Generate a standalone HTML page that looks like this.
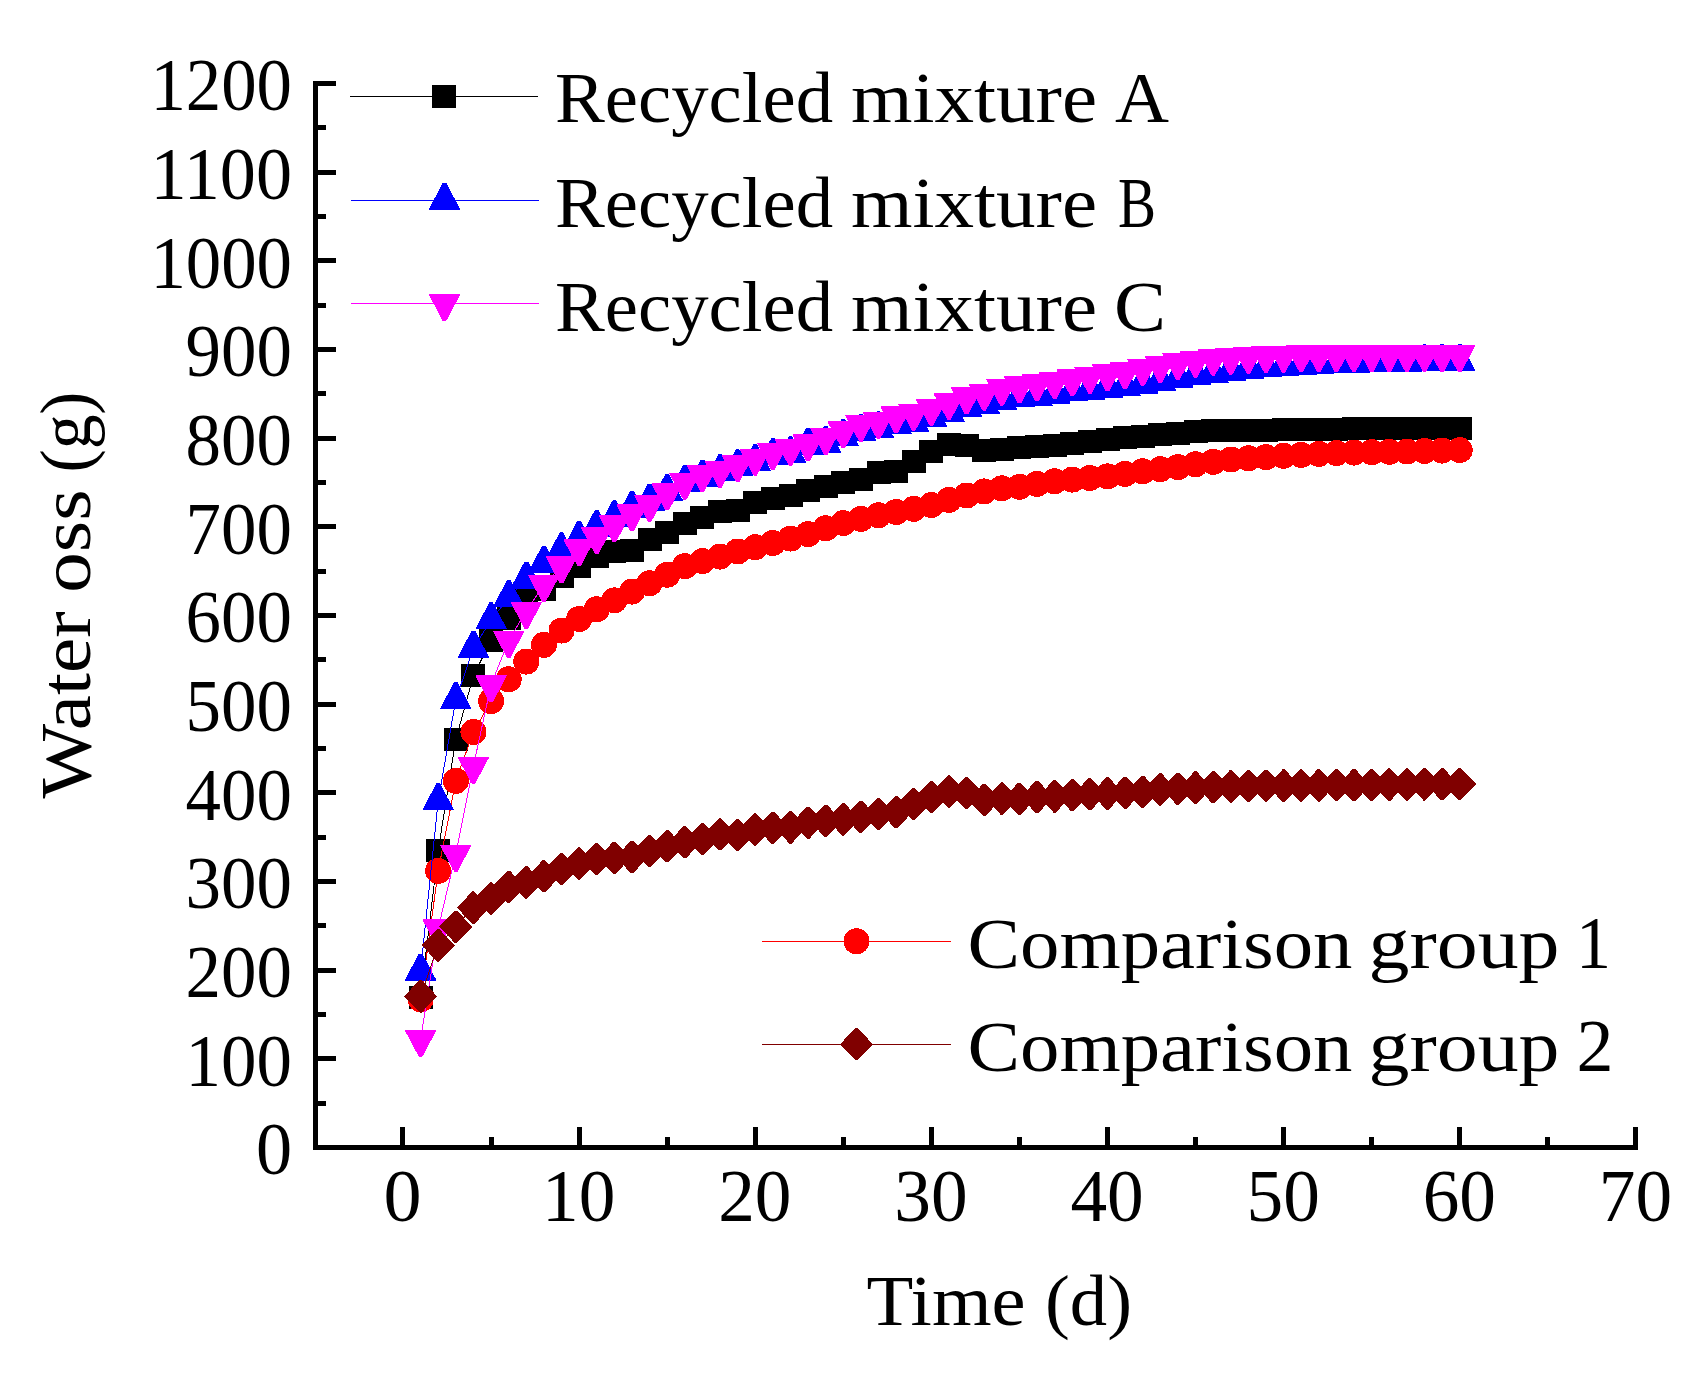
<!DOCTYPE html>
<html lang="en">
<head>
<meta charset="utf-8">
<title>Water loss over time</title>
<style>
html,body{margin:0;padding:0;background:#fff;}
body{width:1707px;height:1377px;overflow:hidden;}
svg{display:block;}
text{font-family:"Liberation Serif","DejaVu Serif",serif;font-size:72px;fill:#000;}
.n{font-size:75px;}
</style>
</head>
<body>
<svg width="1707" height="1377" viewBox="0 0 1707 1377">
<rect width="1707" height="1377" fill="#fff"/>
<g fill="#000" shape-rendering="crispEdges">
<rect x="313" y="81" width="5" height="1069"/>
<rect x="313" y="1145" width="1325" height="5"/>
<rect x="313" y="1145" width="23" height="5"/>
<rect x="313" y="1101" width="13" height="5"/>
<rect x="313" y="1056" width="23" height="5"/>
<rect x="313" y="1012" width="13" height="5"/>
<rect x="313" y="968" width="23" height="5"/>
<rect x="313" y="923" width="13" height="5"/>
<rect x="313" y="879" width="23" height="5"/>
<rect x="313" y="835" width="13" height="5"/>
<rect x="313" y="790" width="23" height="5"/>
<rect x="313" y="746" width="13" height="5"/>
<rect x="313" y="702" width="23" height="5"/>
<rect x="313" y="657" width="13" height="5"/>
<rect x="313" y="613" width="23" height="5"/>
<rect x="313" y="569" width="13" height="5"/>
<rect x="313" y="524" width="23" height="5"/>
<rect x="313" y="480" width="13" height="5"/>
<rect x="313" y="436" width="23" height="5"/>
<rect x="313" y="391" width="13" height="5"/>
<rect x="313" y="347" width="23" height="5"/>
<rect x="313" y="303" width="13" height="5"/>
<rect x="313" y="258" width="23" height="5"/>
<rect x="313" y="214" width="13" height="5"/>
<rect x="313" y="170" width="23" height="5"/>
<rect x="313" y="125" width="13" height="5"/>
<rect x="313" y="81" width="23" height="5"/>
<rect x="400" y="1127" width="5" height="23"/>
<rect x="489" y="1137" width="5" height="13"/>
<rect x="577" y="1127" width="5" height="23"/>
<rect x="665" y="1137" width="5" height="13"/>
<rect x="753" y="1127" width="5" height="23"/>
<rect x="841" y="1137" width="5" height="13"/>
<rect x="929" y="1127" width="5" height="23"/>
<rect x="1017" y="1137" width="5" height="13"/>
<rect x="1105" y="1127" width="5" height="23"/>
<rect x="1193" y="1137" width="5" height="13"/>
<rect x="1281" y="1127" width="5" height="23"/>
<rect x="1369" y="1137" width="5" height="13"/>
<rect x="1457" y="1127" width="5" height="23"/>
<rect x="1545" y="1137" width="5" height="13"/>
<rect x="1633" y="1127" width="5" height="23"/>
</g>
<g text-anchor="end" font-size="75">
<text class="n" x="292" y="1174.2" textLength="36.1" lengthAdjust="spacingAndGlyphs">0</text>
<text class="n" x="292" y="1085.5" textLength="106.4" lengthAdjust="spacingAndGlyphs">100</text>
<text class="n" x="292" y="996.9" textLength="106.4" lengthAdjust="spacingAndGlyphs">200</text>
<text class="n" x="292" y="908.2" textLength="106.4" lengthAdjust="spacingAndGlyphs">300</text>
<text class="n" x="292" y="819.5" textLength="106.4" lengthAdjust="spacingAndGlyphs">400</text>
<text class="n" x="292" y="730.9" textLength="106.4" lengthAdjust="spacingAndGlyphs">500</text>
<text class="n" x="292" y="642.2" textLength="106.4" lengthAdjust="spacingAndGlyphs">600</text>
<text class="n" x="292" y="553.5" textLength="106.4" lengthAdjust="spacingAndGlyphs">700</text>
<text class="n" x="292" y="464.9" textLength="106.4" lengthAdjust="spacingAndGlyphs">800</text>
<text class="n" x="292" y="376.2" textLength="106.4" lengthAdjust="spacingAndGlyphs">900</text>
<text class="n" x="292" y="287.5" textLength="141.6" lengthAdjust="spacingAndGlyphs">1000</text>
<text class="n" x="292" y="198.9" textLength="141.6" lengthAdjust="spacingAndGlyphs">1100</text>
<text class="n" x="292" y="110.2" textLength="141.6" lengthAdjust="spacingAndGlyphs">1200</text>
</g>
<g text-anchor="middle">
<text class="n" x="402.6" y="1221.3" textLength="38.1" lengthAdjust="spacingAndGlyphs">0</text>
<text class="n" x="578.7" y="1221.3" textLength="73.3" lengthAdjust="spacingAndGlyphs">10</text>
<text class="n" x="754.8" y="1221.3" textLength="73.3" lengthAdjust="spacingAndGlyphs">20</text>
<text class="n" x="931" y="1221.3" textLength="73.3" lengthAdjust="spacingAndGlyphs">30</text>
<text class="n" x="1107.1" y="1221.3" textLength="73.3" lengthAdjust="spacingAndGlyphs">40</text>
<text class="n" x="1283.2" y="1221.3" textLength="73.3" lengthAdjust="spacingAndGlyphs">50</text>
<text class="n" x="1459.3" y="1221.3" textLength="73.3" lengthAdjust="spacingAndGlyphs">60</text>
<text class="n" x="1635.4" y="1221.3" textLength="73.3" lengthAdjust="spacingAndGlyphs">70</text>
</g>
<text y="1325.3"><tspan x="866.5" textLength="159" lengthAdjust="spacingAndGlyphs">Time</tspan> <tspan x="1045" textLength="87" lengthAdjust="spacingAndGlyphs">(d)</tspan></text>
<text transform="translate(90 798.5) rotate(-90)"><tspan x="0" textLength="187" lengthAdjust="spacingAndGlyphs">Water</tspan> <tspan x="205.7" textLength="103.5" lengthAdjust="spacingAndGlyphs">oss</tspan> <tspan x="326" textLength="81" lengthAdjust="spacingAndGlyphs">(g)</tspan></text>
<g shape-rendering="crispEdges">
<g fill="#000000" stroke="none">
<polyline fill="none" stroke="#000000" stroke-width="1" points="420.6,997.7 438.2,850.5 455.8,739.6 473.4,675.8 491.1,640.3 508.7,618.2 526.3,598.7 543.9,589.8 561.5,576.5 579.1,566.7 596.7,556.1 614.3,551.7 632,550.8 649.6,539.2 667.2,532.2 684.8,523.7 702.4,517.1 720,511.8 737.6,510.9 755.2,502.9 772.9,498.5 790.5,495.8 808.1,490 825.7,486.9 843.3,482.5 860.9,479 878.5,472.3 896.1,471 913.7,461.2 931.4,451.5 949,444.4 966.6,445.3 984.2,450.6 1001.8,449.2 1019.4,447.9 1037,446.5 1054.6,445.3 1072.3,443.7 1089.9,441.7 1107.5,439.3 1125.1,437.3 1142.7,436.1 1160.3,434.8 1177.9,433.1 1195.5,431.8 1213.2,430.9 1230.8,430.4 1248.4,430 1266,430 1283.6,429.7 1301.2,429.5 1318.8,429.3 1336.4,429.1 1354,428.9 1371.7,428.8 1389.3,428.7 1406.9,428.6 1424.5,428.5 1442.1,428.5 1459.7,428.5"/>
<rect x="408.6" y="986.2" width="24" height="23"/>
<rect x="426.2" y="839" width="24" height="23"/>
<rect x="443.8" y="728.1" width="24" height="23"/>
<rect x="461.4" y="664.3" width="24" height="23"/>
<rect x="479.1" y="628.8" width="24" height="23"/>
<rect x="496.7" y="606.7" width="24" height="23"/>
<rect x="514.3" y="587.2" width="24" height="23"/>
<rect x="531.9" y="578.3" width="24" height="23"/>
<rect x="549.5" y="565" width="24" height="23"/>
<rect x="567.1" y="555.2" width="24" height="23"/>
<rect x="584.7" y="544.6" width="24" height="23"/>
<rect x="602.3" y="540.2" width="24" height="23"/>
<rect x="620" y="539.3" width="24" height="23"/>
<rect x="637.6" y="527.7" width="24" height="23"/>
<rect x="655.2" y="520.7" width="24" height="23"/>
<rect x="672.8" y="512.2" width="24" height="23"/>
<rect x="690.4" y="505.6" width="24" height="23"/>
<rect x="708" y="500.3" width="24" height="23"/>
<rect x="725.6" y="499.4" width="24" height="23"/>
<rect x="743.2" y="491.4" width="24" height="23"/>
<rect x="760.9" y="487" width="24" height="23"/>
<rect x="778.5" y="484.3" width="24" height="23"/>
<rect x="796.1" y="478.5" width="24" height="23"/>
<rect x="813.7" y="475.4" width="24" height="23"/>
<rect x="831.3" y="471" width="24" height="23"/>
<rect x="848.9" y="467.5" width="24" height="23"/>
<rect x="866.5" y="460.8" width="24" height="23"/>
<rect x="884.1" y="459.5" width="24" height="23"/>
<rect x="901.7" y="449.7" width="24" height="23"/>
<rect x="919.4" y="440" width="24" height="23"/>
<rect x="937" y="432.9" width="24" height="23"/>
<rect x="954.6" y="433.8" width="24" height="23"/>
<rect x="972.2" y="439.1" width="24" height="23"/>
<rect x="989.8" y="437.7" width="24" height="23"/>
<rect x="1007.4" y="436.4" width="24" height="23"/>
<rect x="1025" y="435" width="24" height="23"/>
<rect x="1042.6" y="433.8" width="24" height="23"/>
<rect x="1060.3" y="432.2" width="24" height="23"/>
<rect x="1077.9" y="430.2" width="24" height="23"/>
<rect x="1095.5" y="427.8" width="24" height="23"/>
<rect x="1113.1" y="425.8" width="24" height="23"/>
<rect x="1130.7" y="424.6" width="24" height="23"/>
<rect x="1148.3" y="423.3" width="24" height="23"/>
<rect x="1165.9" y="421.6" width="24" height="23"/>
<rect x="1183.5" y="420.3" width="24" height="23"/>
<rect x="1201.2" y="419.4" width="24" height="23"/>
<rect x="1218.8" y="418.9" width="24" height="23"/>
<rect x="1236.4" y="418.5" width="24" height="23"/>
<rect x="1254" y="418.5" width="24" height="23"/>
<rect x="1271.6" y="418.2" width="24" height="23"/>
<rect x="1289.2" y="418" width="24" height="23"/>
<rect x="1306.8" y="417.8" width="24" height="23"/>
<rect x="1324.4" y="417.6" width="24" height="23"/>
<rect x="1342" y="417.4" width="24" height="23"/>
<rect x="1359.7" y="417.3" width="24" height="23"/>
<rect x="1377.3" y="417.2" width="24" height="23"/>
<rect x="1394.9" y="417.1" width="24" height="23"/>
<rect x="1412.5" y="417" width="24" height="23"/>
<rect x="1430.1" y="417" width="24" height="23"/>
<rect x="1447.7" y="417" width="24" height="23"/>
</g>
<g fill="#ff0000" stroke="none">
<polyline fill="none" stroke="#ff0000" stroke-width="1" points="420.6,999.4 438.2,870.9 455.8,780.9 473.4,732 491.1,701.1 508.7,679.3 526.3,661.6 543.9,644.8 561.5,630.6 579.1,619 596.7,609.3 614.3,600.4 632,591.6 649.6,583.2 667.2,574.7 684.8,566.2 702.4,561.1 720,556.6 737.6,551.5 755.2,547.2 772.9,543 790.5,538.6 808.1,534.2 825.7,528.3 843.3,523.1 860.9,518.9 878.5,515.3 896.1,512 913.7,508.9 931.4,505 949,499.9 966.6,495.5 984.2,491.4 1001.8,488.3 1019.4,486.8 1037,483.9 1054.6,481.2 1072.3,479.6 1089.9,478 1107.5,476.4 1125.1,473.8 1142.7,471.3 1160.3,469.2 1177.9,467.1 1195.5,464.2 1213.2,461.8 1230.8,459.5 1248.4,458.3 1266,457.1 1283.6,455.8 1301.2,454.9 1318.8,453.9 1336.4,453.1 1354,452.6 1371.7,452.2 1389.3,451.8 1406.9,451.5 1424.5,451 1442.1,450.6 1459.7,450.1"/>
<circle cx="420.6" cy="999.4" r="13"/>
<circle cx="438.2" cy="870.9" r="13"/>
<circle cx="455.8" cy="780.9" r="13"/>
<circle cx="473.4" cy="732" r="13"/>
<circle cx="491.1" cy="701.1" r="13"/>
<circle cx="508.7" cy="679.3" r="13"/>
<circle cx="526.3" cy="661.6" r="13"/>
<circle cx="543.9" cy="644.8" r="13"/>
<circle cx="561.5" cy="630.6" r="13"/>
<circle cx="579.1" cy="619" r="13"/>
<circle cx="596.7" cy="609.3" r="13"/>
<circle cx="614.3" cy="600.4" r="13"/>
<circle cx="632" cy="591.6" r="13"/>
<circle cx="649.6" cy="583.2" r="13"/>
<circle cx="667.2" cy="574.7" r="13"/>
<circle cx="684.8" cy="566.2" r="13"/>
<circle cx="702.4" cy="561.1" r="13"/>
<circle cx="720" cy="556.6" r="13"/>
<circle cx="737.6" cy="551.5" r="13"/>
<circle cx="755.2" cy="547.2" r="13"/>
<circle cx="772.9" cy="543" r="13"/>
<circle cx="790.5" cy="538.6" r="13"/>
<circle cx="808.1" cy="534.2" r="13"/>
<circle cx="825.7" cy="528.3" r="13"/>
<circle cx="843.3" cy="523.1" r="13"/>
<circle cx="860.9" cy="518.9" r="13"/>
<circle cx="878.5" cy="515.3" r="13"/>
<circle cx="896.1" cy="512" r="13"/>
<circle cx="913.7" cy="508.9" r="13"/>
<circle cx="931.4" cy="505" r="13"/>
<circle cx="949" cy="499.9" r="13"/>
<circle cx="966.6" cy="495.5" r="13"/>
<circle cx="984.2" cy="491.4" r="13"/>
<circle cx="1001.8" cy="488.3" r="13"/>
<circle cx="1019.4" cy="486.8" r="13"/>
<circle cx="1037" cy="483.9" r="13"/>
<circle cx="1054.6" cy="481.2" r="13"/>
<circle cx="1072.3" cy="479.6" r="13"/>
<circle cx="1089.9" cy="478" r="13"/>
<circle cx="1107.5" cy="476.4" r="13"/>
<circle cx="1125.1" cy="473.8" r="13"/>
<circle cx="1142.7" cy="471.3" r="13"/>
<circle cx="1160.3" cy="469.2" r="13"/>
<circle cx="1177.9" cy="467.1" r="13"/>
<circle cx="1195.5" cy="464.2" r="13"/>
<circle cx="1213.2" cy="461.8" r="13"/>
<circle cx="1230.8" cy="459.5" r="13"/>
<circle cx="1248.4" cy="458.3" r="13"/>
<circle cx="1266" cy="457.1" r="13"/>
<circle cx="1283.6" cy="455.8" r="13"/>
<circle cx="1301.2" cy="454.9" r="13"/>
<circle cx="1318.8" cy="453.9" r="13"/>
<circle cx="1336.4" cy="453.1" r="13"/>
<circle cx="1354" cy="452.6" r="13"/>
<circle cx="1371.7" cy="452.2" r="13"/>
<circle cx="1389.3" cy="451.8" r="13"/>
<circle cx="1406.9" cy="451.5" r="13"/>
<circle cx="1424.5" cy="451" r="13"/>
<circle cx="1442.1" cy="450.6" r="13"/>
<circle cx="1459.7" cy="450.1" r="13"/>
</g>
<g fill="#0000ff" stroke="none">
<polyline fill="none" stroke="#0000ff" stroke-width="1" points="420.6,971.1 438.2,800.8 455.8,699.7 473.4,648.3 491.1,619.9 508.7,597.8 526.3,579.1 543.9,563.2 561.5,549.9 579.1,538.4 596.7,527.3 614.3,518 632,508.2 649.6,501.1 667.2,491.4 684.8,482.5 702.4,477.2 720,471.9 737.6,466.8 755.2,461.7 772.9,455.9 790.5,453.7 808.1,445.3 825.7,443.8 843.3,436.8 860.9,432 878.5,429 896.1,424.7 913.7,422.5 931.4,417.5 949,412.5 966.6,407.7 984.2,404.4 1001.8,400.7 1019.4,397.8 1037,396.3 1054.6,394.1 1072.3,392 1089.9,390.2 1107.5,388.1 1125.1,386.5 1142.7,384.2 1160.3,381.5 1177.9,378.7 1195.5,375.8 1213.2,373.7 1230.8,371.5 1248.4,369.4 1266,367.9 1283.6,366.3 1301.2,365.2 1318.8,364.6 1336.4,363.7 1354,363.2 1371.7,362.8 1389.3,362.6 1406.9,362.4 1424.5,361.9 1442.1,361.7 1459.7,361.6"/>
<path d="M418.9 953.5h3.4l13.8 26v1h-31v-1z"/>
<path d="M436.5 783.2h3.4l13.8 26v1h-31v-1z"/>
<path d="M454.1 682.1h3.4l13.8 26v1h-31v-1z"/>
<path d="M471.7 630.7h3.4l13.8 26v1h-31v-1z"/>
<path d="M489.4 602.3h3.4l13.8 26v1h-31v-1z"/>
<path d="M507 580.2h3.4l13.8 26v1h-31v-1z"/>
<path d="M524.6 561.5h3.4l13.8 26v1h-31v-1z"/>
<path d="M542.2 545.6h3.4l13.8 26v1h-31v-1z"/>
<path d="M559.8 532.3h3.4l13.8 26v1h-31v-1z"/>
<path d="M577.4 520.8h3.4l13.8 26v1h-31v-1z"/>
<path d="M595 509.7h3.4l13.8 26v1h-31v-1z"/>
<path d="M612.6 500.4h3.4l13.8 26v1h-31v-1z"/>
<path d="M630.3 490.6h3.4l13.8 26v1h-31v-1z"/>
<path d="M647.9 483.5h3.4l13.8 26v1h-31v-1z"/>
<path d="M665.5 473.8h3.4l13.8 26v1h-31v-1z"/>
<path d="M683.1 464.9h3.4l13.8 26v1h-31v-1z"/>
<path d="M700.7 459.6h3.4l13.8 26v1h-31v-1z"/>
<path d="M718.3 454.3h3.4l13.8 26v1h-31v-1z"/>
<path d="M735.9 449.2h3.4l13.8 26v1h-31v-1z"/>
<path d="M753.5 444.1h3.4l13.8 26v1h-31v-1z"/>
<path d="M771.2 438.3h3.4l13.8 26v1h-31v-1z"/>
<path d="M788.8 436.1h3.4l13.8 26v1h-31v-1z"/>
<path d="M806.4 427.7h3.4l13.8 26v1h-31v-1z"/>
<path d="M824 426.2h3.4l13.8 26v1h-31v-1z"/>
<path d="M841.6 419.2h3.4l13.8 26v1h-31v-1z"/>
<path d="M859.2 414.4h3.4l13.8 26v1h-31v-1z"/>
<path d="M876.8 411.4h3.4l13.8 26v1h-31v-1z"/>
<path d="M894.4 407.1h3.4l13.8 26v1h-31v-1z"/>
<path d="M912 404.9h3.4l13.8 26v1h-31v-1z"/>
<path d="M929.7 399.9h3.4l13.8 26v1h-31v-1z"/>
<path d="M947.3 394.9h3.4l13.8 26v1h-31v-1z"/>
<path d="M964.9 390.1h3.4l13.8 26v1h-31v-1z"/>
<path d="M982.5 386.8h3.4l13.8 26v1h-31v-1z"/>
<path d="M1000.1 383.1h3.4l13.8 26v1h-31v-1z"/>
<path d="M1017.7 380.2h3.4l13.8 26v1h-31v-1z"/>
<path d="M1035.3 378.7h3.4l13.8 26v1h-31v-1z"/>
<path d="M1052.9 376.5h3.4l13.8 26v1h-31v-1z"/>
<path d="M1070.6 374.4h3.4l13.8 26v1h-31v-1z"/>
<path d="M1088.2 372.6h3.4l13.8 26v1h-31v-1z"/>
<path d="M1105.8 370.5h3.4l13.8 26v1h-31v-1z"/>
<path d="M1123.4 368.9h3.4l13.8 26v1h-31v-1z"/>
<path d="M1141 366.6h3.4l13.8 26v1h-31v-1z"/>
<path d="M1158.6 363.9h3.4l13.8 26v1h-31v-1z"/>
<path d="M1176.2 361.1h3.4l13.8 26v1h-31v-1z"/>
<path d="M1193.8 358.2h3.4l13.8 26v1h-31v-1z"/>
<path d="M1211.5 356.1h3.4l13.8 26v1h-31v-1z"/>
<path d="M1229.1 353.9h3.4l13.8 26v1h-31v-1z"/>
<path d="M1246.7 351.8h3.4l13.8 26v1h-31v-1z"/>
<path d="M1264.3 350.3h3.4l13.8 26v1h-31v-1z"/>
<path d="M1281.9 348.7h3.4l13.8 26v1h-31v-1z"/>
<path d="M1299.5 347.6h3.4l13.8 26v1h-31v-1z"/>
<path d="M1317.1 347h3.4l13.8 26v1h-31v-1z"/>
<path d="M1334.7 346.1h3.4l13.8 26v1h-31v-1z"/>
<path d="M1352.3 345.6h3.4l13.8 26v1h-31v-1z"/>
<path d="M1370 345.2h3.4l13.8 26v1h-31v-1z"/>
<path d="M1387.6 345h3.4l13.8 26v1h-31v-1z"/>
<path d="M1405.2 344.8h3.4l13.8 26v1h-31v-1z"/>
<path d="M1422.8 344.3h3.4l13.8 26v1h-31v-1z"/>
<path d="M1440.4 344.1h3.4l13.8 26v1h-31v-1z"/>
<path d="M1458 344h3.4l13.8 26v1h-31v-1z"/>
</g>
<g fill="#ff00ff" stroke="none">
<polyline fill="none" stroke="#ff00ff" stroke-width="1" points="420.6,1039.3 438.2,928.5 455.8,854 473.4,766.2 491.1,684.7 508.7,640.3 526.3,611.1 543.9,584.5 561.5,565.8 579.1,548.4 596.7,536.6 614.3,524.4 632,513.5 649.6,504.1 667.2,492.8 684.8,481.9 702.4,474.3 720,469.9 737.6,464.5 755.2,457.9 772.9,452.5 790.5,448.2 808.1,443.8 825.7,437.3 843.3,430.7 860.9,424 878.5,421.3 896.1,415.6 913.7,413 931.4,408.2 949,402.1 966.6,396.7 984.2,392.9 1001.8,387.9 1019.4,385.7 1037,383.5 1054.6,381.4 1072.3,378.8 1089.9,375.9 1107.5,373.7 1125.1,371.7 1142.7,368.1 1160.3,365.1 1177.9,362.3 1195.5,360.1 1213.2,357.9 1230.8,356.9 1248.4,356 1266,355.3 1283.6,354.9 1301.2,354.7 1318.8,354.5 1336.4,354.4 1354,354.3 1371.7,354.2 1389.3,354.1 1406.9,354.1 1424.5,354.1 1442.1,354.3 1459.7,354.5"/>
<path d="M418.9 1056.9h3.4l13.8 -26v-1h-31v1z"/>
<path d="M436.5 946.1h3.4l13.8 -26v-1h-31v1z"/>
<path d="M454.1 871.6h3.4l13.8 -26v-1h-31v1z"/>
<path d="M471.7 783.8h3.4l13.8 -26v-1h-31v1z"/>
<path d="M489.4 702.3h3.4l13.8 -26v-1h-31v1z"/>
<path d="M507 657.9h3.4l13.8 -26v-1h-31v1z"/>
<path d="M524.6 628.7h3.4l13.8 -26v-1h-31v1z"/>
<path d="M542.2 602.1h3.4l13.8 -26v-1h-31v1z"/>
<path d="M559.8 583.4h3.4l13.8 -26v-1h-31v1z"/>
<path d="M577.4 566h3.4l13.8 -26v-1h-31v1z"/>
<path d="M595 554.2h3.4l13.8 -26v-1h-31v1z"/>
<path d="M612.6 542h3.4l13.8 -26v-1h-31v1z"/>
<path d="M630.3 531.1h3.4l13.8 -26v-1h-31v1z"/>
<path d="M647.9 521.7h3.4l13.8 -26v-1h-31v1z"/>
<path d="M665.5 510.4h3.4l13.8 -26v-1h-31v1z"/>
<path d="M683.1 499.5h3.4l13.8 -26v-1h-31v1z"/>
<path d="M700.7 491.9h3.4l13.8 -26v-1h-31v1z"/>
<path d="M718.3 487.5h3.4l13.8 -26v-1h-31v1z"/>
<path d="M735.9 482.1h3.4l13.8 -26v-1h-31v1z"/>
<path d="M753.5 475.5h3.4l13.8 -26v-1h-31v1z"/>
<path d="M771.2 470.1h3.4l13.8 -26v-1h-31v1z"/>
<path d="M788.8 465.8h3.4l13.8 -26v-1h-31v1z"/>
<path d="M806.4 461.4h3.4l13.8 -26v-1h-31v1z"/>
<path d="M824 454.9h3.4l13.8 -26v-1h-31v1z"/>
<path d="M841.6 448.3h3.4l13.8 -26v-1h-31v1z"/>
<path d="M859.2 441.6h3.4l13.8 -26v-1h-31v1z"/>
<path d="M876.8 438.9h3.4l13.8 -26v-1h-31v1z"/>
<path d="M894.4 433.2h3.4l13.8 -26v-1h-31v1z"/>
<path d="M912 430.6h3.4l13.8 -26v-1h-31v1z"/>
<path d="M929.7 425.8h3.4l13.8 -26v-1h-31v1z"/>
<path d="M947.3 419.7h3.4l13.8 -26v-1h-31v1z"/>
<path d="M964.9 414.3h3.4l13.8 -26v-1h-31v1z"/>
<path d="M982.5 410.5h3.4l13.8 -26v-1h-31v1z"/>
<path d="M1000.1 405.5h3.4l13.8 -26v-1h-31v1z"/>
<path d="M1017.7 403.3h3.4l13.8 -26v-1h-31v1z"/>
<path d="M1035.3 401.1h3.4l13.8 -26v-1h-31v1z"/>
<path d="M1052.9 399h3.4l13.8 -26v-1h-31v1z"/>
<path d="M1070.6 396.4h3.4l13.8 -26v-1h-31v1z"/>
<path d="M1088.2 393.5h3.4l13.8 -26v-1h-31v1z"/>
<path d="M1105.8 391.3h3.4l13.8 -26v-1h-31v1z"/>
<path d="M1123.4 389.3h3.4l13.8 -26v-1h-31v1z"/>
<path d="M1141 385.7h3.4l13.8 -26v-1h-31v1z"/>
<path d="M1158.6 382.7h3.4l13.8 -26v-1h-31v1z"/>
<path d="M1176.2 379.9h3.4l13.8 -26v-1h-31v1z"/>
<path d="M1193.8 377.7h3.4l13.8 -26v-1h-31v1z"/>
<path d="M1211.5 375.5h3.4l13.8 -26v-1h-31v1z"/>
<path d="M1229.1 374.5h3.4l13.8 -26v-1h-31v1z"/>
<path d="M1246.7 373.6h3.4l13.8 -26v-1h-31v1z"/>
<path d="M1264.3 372.9h3.4l13.8 -26v-1h-31v1z"/>
<path d="M1281.9 372.5h3.4l13.8 -26v-1h-31v1z"/>
<path d="M1299.5 372.3h3.4l13.8 -26v-1h-31v1z"/>
<path d="M1317.1 372.1h3.4l13.8 -26v-1h-31v1z"/>
<path d="M1334.7 372h3.4l13.8 -26v-1h-31v1z"/>
<path d="M1352.3 371.9h3.4l13.8 -26v-1h-31v1z"/>
<path d="M1370 371.8h3.4l13.8 -26v-1h-31v1z"/>
<path d="M1387.6 371.7h3.4l13.8 -26v-1h-31v1z"/>
<path d="M1405.2 371.7h3.4l13.8 -26v-1h-31v1z"/>
<path d="M1422.8 371.7h3.4l13.8 -26v-1h-31v1z"/>
<path d="M1440.4 371.9h3.4l13.8 -26v-1h-31v1z"/>
<path d="M1458 372.1h3.4l13.8 -26v-1h-31v1z"/>
</g>
<g fill="#800000" stroke="none">
<polyline fill="none" stroke="#800000" stroke-width="1" points="420.6,996.3 438.2,945.3 455.8,926.7 473.4,907.6 491.1,898.3 508.7,886.8 526.3,882.4 543.9,876.2 561.5,869.1 579.1,863.3 596.7,859 614.3,857.8 632,857 649.6,850.8 667.2,846.2 684.8,842.2 702.4,839 720,834.2 737.6,834.9 755.2,829.5 772.9,827.9 790.5,827.4 808.1,822.8 825.7,820.7 843.3,819.3 860.9,816.9 878.5,813.7 896.1,812.1 913.7,804 931.4,797 949,791.6 966.6,793.2 984.2,799.9 1001.8,798.6 1019.4,798.7 1037,797 1054.6,796.4 1072.3,795.2 1089.9,794.1 1107.5,793.5 1125.1,792.9 1142.7,791.8 1160.3,789.4 1177.9,788.8 1195.5,787.6 1213.2,787.1 1230.8,786.4 1248.4,786.2 1266,785.8 1283.6,785.6 1301.2,785.4 1318.8,785.3 1336.4,785.2 1354,785.1 1371.7,785 1389.3,784.6 1406.9,784.4 1424.5,784.3 1442.1,784.1 1459.7,784"/>
<path d="M419.6 980.1h2l15.6 16.2l-15.6 16.2h-2l-15.6 -16.2z"/>
<path d="M437.2 929.1h2l15.6 16.2l-15.6 16.2h-2l-15.6 -16.2z"/>
<path d="M454.8 910.5h2l15.6 16.2l-15.6 16.2h-2l-15.6 -16.2z"/>
<path d="M472.4 891.4h2l15.6 16.2l-15.6 16.2h-2l-15.6 -16.2z"/>
<path d="M490.1 882.1h2l15.6 16.2l-15.6 16.2h-2l-15.6 -16.2z"/>
<path d="M507.7 870.6h2l15.6 16.2l-15.6 16.2h-2l-15.6 -16.2z"/>
<path d="M525.3 866.2h2l15.6 16.2l-15.6 16.2h-2l-15.6 -16.2z"/>
<path d="M542.9 860h2l15.6 16.2l-15.6 16.2h-2l-15.6 -16.2z"/>
<path d="M560.5 852.9h2l15.6 16.2l-15.6 16.2h-2l-15.6 -16.2z"/>
<path d="M578.1 847.1h2l15.6 16.2l-15.6 16.2h-2l-15.6 -16.2z"/>
<path d="M595.7 842.8h2l15.6 16.2l-15.6 16.2h-2l-15.6 -16.2z"/>
<path d="M613.3 841.6h2l15.6 16.2l-15.6 16.2h-2l-15.6 -16.2z"/>
<path d="M631 840.8h2l15.6 16.2l-15.6 16.2h-2l-15.6 -16.2z"/>
<path d="M648.6 834.6h2l15.6 16.2l-15.6 16.2h-2l-15.6 -16.2z"/>
<path d="M666.2 830h2l15.6 16.2l-15.6 16.2h-2l-15.6 -16.2z"/>
<path d="M683.8 826h2l15.6 16.2l-15.6 16.2h-2l-15.6 -16.2z"/>
<path d="M701.4 822.8h2l15.6 16.2l-15.6 16.2h-2l-15.6 -16.2z"/>
<path d="M719 818h2l15.6 16.2l-15.6 16.2h-2l-15.6 -16.2z"/>
<path d="M736.6 818.7h2l15.6 16.2l-15.6 16.2h-2l-15.6 -16.2z"/>
<path d="M754.2 813.3h2l15.6 16.2l-15.6 16.2h-2l-15.6 -16.2z"/>
<path d="M771.9 811.7h2l15.6 16.2l-15.6 16.2h-2l-15.6 -16.2z"/>
<path d="M789.5 811.2h2l15.6 16.2l-15.6 16.2h-2l-15.6 -16.2z"/>
<path d="M807.1 806.6h2l15.6 16.2l-15.6 16.2h-2l-15.6 -16.2z"/>
<path d="M824.7 804.5h2l15.6 16.2l-15.6 16.2h-2l-15.6 -16.2z"/>
<path d="M842.3 803.1h2l15.6 16.2l-15.6 16.2h-2l-15.6 -16.2z"/>
<path d="M859.9 800.7h2l15.6 16.2l-15.6 16.2h-2l-15.6 -16.2z"/>
<path d="M877.5 797.5h2l15.6 16.2l-15.6 16.2h-2l-15.6 -16.2z"/>
<path d="M895.1 795.9h2l15.6 16.2l-15.6 16.2h-2l-15.6 -16.2z"/>
<path d="M912.7 787.8h2l15.6 16.2l-15.6 16.2h-2l-15.6 -16.2z"/>
<path d="M930.4 780.8h2l15.6 16.2l-15.6 16.2h-2l-15.6 -16.2z"/>
<path d="M948 775.4h2l15.6 16.2l-15.6 16.2h-2l-15.6 -16.2z"/>
<path d="M965.6 777h2l15.6 16.2l-15.6 16.2h-2l-15.6 -16.2z"/>
<path d="M983.2 783.7h2l15.6 16.2l-15.6 16.2h-2l-15.6 -16.2z"/>
<path d="M1000.8 782.4h2l15.6 16.2l-15.6 16.2h-2l-15.6 -16.2z"/>
<path d="M1018.4 782.5h2l15.6 16.2l-15.6 16.2h-2l-15.6 -16.2z"/>
<path d="M1036 780.8h2l15.6 16.2l-15.6 16.2h-2l-15.6 -16.2z"/>
<path d="M1053.6 780.2h2l15.6 16.2l-15.6 16.2h-2l-15.6 -16.2z"/>
<path d="M1071.3 779h2l15.6 16.2l-15.6 16.2h-2l-15.6 -16.2z"/>
<path d="M1088.9 777.9h2l15.6 16.2l-15.6 16.2h-2l-15.6 -16.2z"/>
<path d="M1106.5 777.3h2l15.6 16.2l-15.6 16.2h-2l-15.6 -16.2z"/>
<path d="M1124.1 776.7h2l15.6 16.2l-15.6 16.2h-2l-15.6 -16.2z"/>
<path d="M1141.7 775.6h2l15.6 16.2l-15.6 16.2h-2l-15.6 -16.2z"/>
<path d="M1159.3 773.2h2l15.6 16.2l-15.6 16.2h-2l-15.6 -16.2z"/>
<path d="M1176.9 772.6h2l15.6 16.2l-15.6 16.2h-2l-15.6 -16.2z"/>
<path d="M1194.5 771.4h2l15.6 16.2l-15.6 16.2h-2l-15.6 -16.2z"/>
<path d="M1212.2 770.9h2l15.6 16.2l-15.6 16.2h-2l-15.6 -16.2z"/>
<path d="M1229.8 770.2h2l15.6 16.2l-15.6 16.2h-2l-15.6 -16.2z"/>
<path d="M1247.4 770h2l15.6 16.2l-15.6 16.2h-2l-15.6 -16.2z"/>
<path d="M1265 769.6h2l15.6 16.2l-15.6 16.2h-2l-15.6 -16.2z"/>
<path d="M1282.6 769.4h2l15.6 16.2l-15.6 16.2h-2l-15.6 -16.2z"/>
<path d="M1300.2 769.2h2l15.6 16.2l-15.6 16.2h-2l-15.6 -16.2z"/>
<path d="M1317.8 769.1h2l15.6 16.2l-15.6 16.2h-2l-15.6 -16.2z"/>
<path d="M1335.4 769h2l15.6 16.2l-15.6 16.2h-2l-15.6 -16.2z"/>
<path d="M1353 768.9h2l15.6 16.2l-15.6 16.2h-2l-15.6 -16.2z"/>
<path d="M1370.7 768.8h2l15.6 16.2l-15.6 16.2h-2l-15.6 -16.2z"/>
<path d="M1388.3 768.4h2l15.6 16.2l-15.6 16.2h-2l-15.6 -16.2z"/>
<path d="M1405.9 768.2h2l15.6 16.2l-15.6 16.2h-2l-15.6 -16.2z"/>
<path d="M1423.5 768.1h2l15.6 16.2l-15.6 16.2h-2l-15.6 -16.2z"/>
<path d="M1441.1 767.9h2l15.6 16.2l-15.6 16.2h-2l-15.6 -16.2z"/>
<path d="M1458.7 767.8h2l15.6 16.2l-15.6 16.2h-2l-15.6 -16.2z"/>
</g>
<g fill="#000000"><rect x="350" y="96" width="188" height="1"/><rect x="432" y="85" width="24" height="23"/></g>
<g fill="#0000ff"><rect x="350.5" y="199.9" width="188" height="1"/><path d="M442.8 182.8h3.4l13.8 26v1h-31v-1z"/></g>
<g fill="#ff00ff"><rect x="350.5" y="303" width="188" height="1"/><path d="M442.8 321.1h3.4l13.8 -26v-1h-31v1z"/></g>
<g fill="#ff0000"><rect x="762" y="940.8" width="189" height="1"/><circle cx="856.5" cy="941.3" r="13"/></g>
<g fill="#800000"><rect x="762" y="1043.8" width="189" height="1"/><path d="M855.5 1028.1h2l15.6 16.2l-15.6 16.2h-2l-15.6 -16.2z"/></g>
</g>
<text y="122.3"><tspan x="555" textLength="278" lengthAdjust="spacingAndGlyphs">Recycled</tspan> <tspan x="851" textLength="246" lengthAdjust="spacingAndGlyphs">mixture</tspan> <tspan x="1115" textLength="54" lengthAdjust="spacingAndGlyphs">A</tspan></text>
<text y="226.9"><tspan x="555" textLength="278" lengthAdjust="spacingAndGlyphs">Recycled</tspan> <tspan x="851" textLength="246" lengthAdjust="spacingAndGlyphs">mixture</tspan> <tspan x="1118" textLength="38" lengthAdjust="spacingAndGlyphs">B</tspan></text>
<text y="330.5"><tspan x="555" textLength="278" lengthAdjust="spacingAndGlyphs">Recycled</tspan> <tspan x="851" textLength="246" lengthAdjust="spacingAndGlyphs">mixture</tspan> <tspan x="1114" textLength="52" lengthAdjust="spacingAndGlyphs">C</tspan></text>
<text y="967.8"><tspan x="967.5" textLength="385" lengthAdjust="spacingAndGlyphs">Comparison</tspan> <tspan x="1368.5" textLength="191" lengthAdjust="spacingAndGlyphs">group</tspan> <tspan class="n" x="1576" textLength="35" lengthAdjust="spacingAndGlyphs">1</tspan></text>
<text y="1071.4"><tspan x="967.5" textLength="385" lengthAdjust="spacingAndGlyphs">Comparison</tspan> <tspan x="1368.5" textLength="191" lengthAdjust="spacingAndGlyphs">group</tspan> <tspan class="n" x="1576.5" textLength="37" lengthAdjust="spacingAndGlyphs">2</tspan></text>
</svg>
</body>
</html>
